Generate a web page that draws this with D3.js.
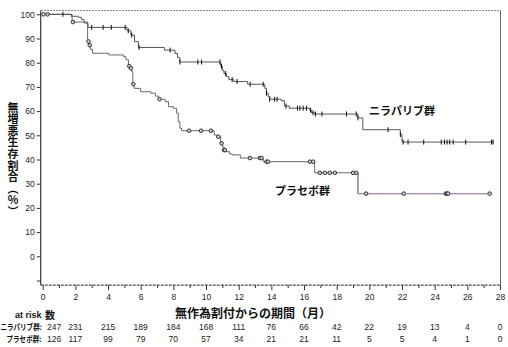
<!DOCTYPE html>
<html>
<head>
<meta charset="utf-8">
<script src="https://cdn.jsdelivr.net/npm/d3@7"></script>
<style>
  html, body { margin: 0; padding: 0; background: #fff; }
  svg { display: block; }
</style>
</head>
<body>
<svg id="chart" width="508" height="347"></svg>
<script>
// Kaplan–Meier step data: time of each drop (months) and survival after it (%)
const niraTimes = [1.75, 2.16, 2.36, 2.53, 2.77, 5.16, 5.40, 5.62, 5.86, 7.45, 8.1, 8.25, 8.4,
  10.9, 11.0, 11.1, 11.25, 11.4, 11.7, 12.55, 13.6, 13.7, 13.8, 13.9, 14.6, 14.8, 15.1,
  16.35, 16.45, 16.65, 19.3, 19.6, 21.9, 22.0];
const niraSurv = [99.2, 98.8, 97.8, 96.4, 94.6, 93.2, 91.4, 88.7, 86.3, 85.2, 83.8, 82.2, 80.3,
  78.5, 76.8, 75.5, 74.2, 73.0, 72.2, 71.1, 69.4, 67.4, 66.0, 64.9, 64.3, 62.1, 61.2,
  60.4, 59.3, 58.8, 57.2, 52.3, 50.3, 47.2];
const niraEnd = 27.6;
const niraCensor = [1.24, 3.0, 3.7, 4.2, 5.05, 5.24, 5.45, 5.9, 7.8, 8.4, 9.5, 9.73, 10.85, 10.95,
  11.2, 11.6, 11.9, 12.7, 13.5, 13.7, 13.9, 14.2, 14.35, 14.9, 15.6, 15.75, 15.95, 16.15,
  16.4, 16.55, 16.7, 17.1, 18.6, 19.2, 19.3, 21.15, 21.9, 22.07, 22.37, 23.33, 24.4, 24.6,
  24.76, 24.92, 25.13, 25.9, 27.48, 27.58];

const placTimes = [1.8, 2.75, 2.82, 2.92, 3.05, 4.05, 4.95, 5.1, 5.25, 5.35, 5.45, 5.52, 5.6,
  6.0, 6.6, 6.9, 7.1, 7.5, 7.7, 8.0, 8.2, 8.3, 8.4, 8.5, 10.5, 10.7, 10.9, 11.0, 11.1,
  11.25, 11.45, 11.6, 12.1, 13.5, 16.65, 19.3];
const placSurv = [96.8, 88.8, 87.2, 85.5, 83.9, 83.2, 82.5, 81.2, 78.6, 77.7, 76.3, 71.1, 69.4,
  68.0, 67.4, 66.2, 64.9, 63.9, 61.8, 61.2, 59.1, 55.6, 52.9, 51.9, 50.1, 49.4, 46.7, 45.3, 43.9,
  43.2, 42.3, 41.9, 40.6, 39.1, 34.5, 25.9];
const placEnd = 27.4;
const placCensor = [0.05, 0.3, 1.85, 2.8, 2.88, 5.3, 5.4, 5.55, 7.15, 8.97, 9.69, 10.3, 10.75,
  10.95, 11.1, 11.15, 12.69, 13.3, 13.4, 13.7, 13.8, 16.36, 16.56, 16.97, 17.28, 17.58, 17.89,
  19.0, 19.2, 19.8, 22.1, 24.68, 24.75, 24.82, 27.37];
const placTailStart = 19.3;

// x axis and at-risk table
const xTicks = d3.range(0, 29, 1);
const atRiskTimes = [0, 2, 4, 6, 8, 10, 12, 14, 16, 18, 20, 22, 24, 26, 28];
const niraAtRisk = [247, 231, 215, 189, 184, 168, 111, 76, 66, 42, 22, 19, 13, 4, 0];
const placAtRisk = [126, 117, 99, 79, 70, 57, 34, 21, 21, 11, 5, 5, 4, 1, 0];
const yTicks = d3.range(-10, 101, 10);

const svg = d3.select("#chart");
const x = d3.scaleLinear().domain([0, 28]).range([42.7, 500]);
const y = d3.scaleLinear().domain([0, 100]).range([256.3, 14.3]);

const xMin = -0.12, xMax = 28.06, yMin = -11.9, yMax = 101.5;
const plotL = x(xMin), plotR = x(xMax), plotT = y(yMax), plotB = y(yMin);

const numFont = "'Liberation Sans', Arial, sans-serif";
const jpFont = "'Noto Sans CJK JP', 'Noto Sans', sans-serif";

// frame: dotted top edge, grey right edge
svg.append("line").attr("x1", plotL).attr("x2", plotR).attr("y1", plotT).attr("y2", plotT)
  .attr("stroke", "#8a8a8a").attr("stroke-width", 1).attr("stroke-dasharray", "2,1")
  .attr("shape-rendering", "crispEdges");
svg.append("line").attr("x1", plotR).attr("x2", plotR).attr("y1", plotT).attr("y2", plotB)
  .attr("stroke", "#666").attr("stroke-width", 1).attr("shape-rendering", "crispEdges");

// y axis
const yAxis = svg.append("g").attr("transform", `translate(${plotL},0)`)
  .call(d3.axisLeft(y).tickValues(yTicks).tickSize(4).tickPadding(2)
    .tickFormat(d => d < 0 ? "" : d));
yAxis.select(".domain").attr("d", `M0,${plotT}V${plotB}`).attr("stroke", "#111");
yAxis.selectAll("line").attr("stroke", "#333");
yAxis.selectAll("text").attr("font-family", numFont).attr("font-size", 8.5).attr("fill", "#222");

// x axis
const xAxis = svg.append("g").attr("transform", `translate(0,${plotB})`)
  .call(d3.axisBottom(x).tickValues(xTicks).tickSize(5).tickPadding(4)
    .tickFormat(d => d % 2 === 0 ? d : ""));
xAxis.select(".domain").attr("d", `M${plotL},0H${plotR}`).attr("stroke", "#222")
  .attr("stroke-dasharray", "3,1");
xAxis.selectAll(".tick line").attr("stroke", "#333").attr("y2", d => d % 2 === 0 ? 5 : 3);
xAxis.selectAll("text").attr("font-family", numFont).attr("font-size", 8.5).attr("fill", "#222");

// survival step functions
function stepPoints(times, surv, end) {
  const pts = [[0, 100]];
  times.forEach((t, i) => pts.push([t, surv[i]]));
  pts.push([end, surv[surv.length - 1]]);
  return pts;
}
function survAt(times, surv, t) {
  let s = 100;
  times.forEach((ti, i) => { if (ti <= t) s = surv[i]; });
  return s;
}
const stepLine = d3.line().x(d => x(d[0])).y(d => y(d[1])).curve(d3.curveStepAfter);

const niraPts = stepPoints(niraTimes, niraSurv, niraEnd);
const placPts = stepPoints(placTimes, placSurv, placEnd);

svg.append("path").datum(placPts).attr("d", stepLine)
  .attr("fill", "none").attr("stroke", "#6a6a6a").attr("stroke-width", 1);
// placebo tail after the last drop
const tailPts = [[placTailStart, survAt(placTimes, placSurv, placTailStart - 0.01)]]
  .concat(placPts.filter(p => p[0] >= placTailStart));
svg.append("path").datum(tailPts).attr("d", stepLine)
  .attr("fill", "none").attr("stroke", "#a98cb4").attr("stroke-width", 1.3);

svg.append("path").datum(niraPts).attr("d", stepLine)
  .attr("fill", "none").attr("stroke", "#555").attr("stroke-width", 1);

// censoring marks
svg.append("g").selectAll("line").data(niraCensor).join("line")
  .attr("x1", d => x(d)).attr("x2", d => x(d))
  .attr("y1", d => y(survAt(niraTimes, niraSurv, d)) - 2.5)
  .attr("y2", d => y(survAt(niraTimes, niraSurv, d)) + 2.5)
  .attr("stroke", "#111").attr("stroke-width", 1);
svg.append("g").selectAll("circle").data(placCensor).join("circle")
  .attr("cx", d => x(d)).attr("cy", d => y(survAt(placTimes, placSurv, d)))
  .attr("r", 1.8).attr("fill", "#ccc").attr("stroke", "#222").attr("stroke-width", 0.9);

// group labels inside the plot
svg.append("text").attr("x", 369).attr("y", 115).text("ニラパリブ群")
  .attr("font-family", jpFont).attr("font-weight", "bold").attr("font-size", 11)
  .attr("fill", "#111");
svg.append("text").attr("x", 275).attr("y", 195).text("プラセボ群")
  .attr("font-family", jpFont).attr("font-weight", "bold").attr("font-size", 11)
  .attr("fill", "#111");

// y title, set in vertical writing mode
svg.append("text").attr("x", 13).attr("y", 102)
  .style("writing-mode", "vertical-rl").style("text-orientation", "upright")
  .attr("letter-spacing", 0.6)
  .text("無増悪生存割合（%）")
  .attr("font-family", jpFont).attr("font-weight", "bold").attr("font-size", 11)
  .attr("fill", "#111");

// x title
svg.append("text").attr("x", 253).attr("y", 318).attr("text-anchor", "middle")
  .text("無作為割付からの期間（月）")
  .attr("font-family", jpFont).attr("font-weight", "bold").attr("font-size", 12)
  .attr("fill", "#111");

// at-risk table
const risk = svg.append("g");
risk.append("text").attr("x", 15).attr("y", 318).text("at risk")
  .attr("font-family", numFont).attr("font-weight", "bold").attr("font-size", 9).attr("fill", "#111");
risk.append("text").attr("x", 45).attr("y", 318.5).text("数")
  .attr("font-family", jpFont).attr("font-weight", "bold").attr("font-size", 10).attr("fill", "#111");
// row labels, condensed horizontally to fit the left margin
risk.append("g").attr("transform", "translate(0.5,329.5) scale(0.82,1)")
  .append("text").text("ニラパリブ群:")
  .attr("font-family", jpFont).attr("font-weight", "bold").attr("font-size", 8).attr("fill", "#111");
risk.append("g").attr("transform", "translate(6.5,341.5) scale(0.82,1)")
  .append("text").text("プラセボ群:")
  .attr("font-family", jpFont).attr("font-weight", "bold").attr("font-size", 8).attr("fill", "#111");
const colX = t => t === 0 ? x(t) + 11.5 : x(t);
risk.selectAll(".rn").data(niraAtRisk).join("text").attr("class", "rn")
  .attr("x", (d, i) => colX(atRiskTimes[i])).attr("y", 329.5).attr("text-anchor", "middle")
  .text(d => d).attr("font-family", numFont).attr("font-size", 8.5).attr("fill", "#222");
risk.selectAll(".rp").data(placAtRisk).join("text").attr("class", "rp")
  .attr("x", (d, i) => colX(atRiskTimes[i])).attr("y", 341.5).attr("text-anchor", "middle")
  .text(d => d).attr("font-family", numFont).attr("font-size", 8.5).attr("fill", "#222");
</script>
</body>
</html>
